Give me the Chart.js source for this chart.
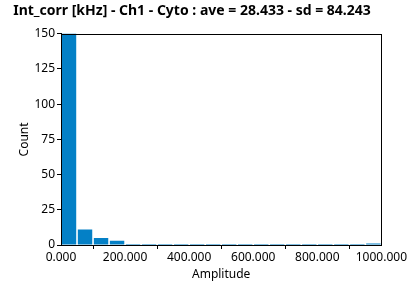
<!DOCTYPE html>
<html>
<head>
<meta charset="utf-8">
<script src="https://cdn.jsdelivr.net/npm/chart.js@4"></script>
<style>
  html, body { margin: 0; padding: 0; background: #fff; }
  #wrap { width: 408px; height: 287px; }
</style>
</head>
<body>
<div id="wrap"><canvas id="hist" width="408" height="287"></canvas></div>
<script>
// histogram bins (width 50) and counts
const binCenters = [25, 75, 125, 175, 225, 275, 325, 375, 425, 475, 525, 575, 625, 675, 725, 775, 825, 875, 925, 975];
const counts = [180, 11, 5, 3, 0, 0, 0, 0, 0, 0, 0, 0, 0, 0, 0, 0, 0, 0, 0, 1];
const xTicks = [0, 200, 400, 600, 800, 1000];
const yTicks = [0, 25, 50, 75, 100, 125, 150];

const font = "'Noto Sans', 'DejaVu Sans', sans-serif";

// box around the plot area
const frame = {
    id: 'frame',
    afterDatasetsDraw(chart) {
        const a = chart.chartArea;
        const ctx = chart.ctx;
        ctx.save();
        ctx.strokeStyle = '#000';
        ctx.lineWidth = 1;
        ctx.strokeRect(Math.round(a.left) + 0.5, Math.round(a.top) + 0.5,
            Math.round(a.right - a.left), Math.round(a.bottom - a.top));
        ctx.restore();
    }
};

new Chart(document.getElementById('hist'), {
    type: 'bar',
    data: {
        datasets: [{
            data: binCenters.map((x, i) => ({ x: x, y: counts[i] })),
            backgroundColor: '#0480C6',
            borderWidth: 0,
            barPercentage: 0.9,
            categoryPercentage: 1,
            minBarLength: 1
        }]
    },
    options: {
        responsive: false,
        animation: false,
        layout: { padding: { top: 0, right: 24, left: 0, bottom: 0 } },
        plugins: {
            legend: { display: false },
            tooltip: { enabled: false },
            title: {
                display: true,
                text: 'Int_corr [kHz] - Ch1 - Cyto : ave = 28.433 - sd = 84.243',
                color: '#000',
                font: { family: font, size: 14, weight: 'bold' },
                padding: { top: 3, bottom: 14 }
            }
        },
        scales: {
            x: {
                type: 'linear',
                min: 0,
                max: 1000,
                offset: false,
                afterBuildTicks(axis) { axis.ticks = xTicks.map(v => ({ value: v })); },
                afterFit(axis) { axis.height = 42; },
                ticks: {
                    color: '#000',
                    font: { family: font, size: 12 },
                    padding: 1,
                    maxRotation: 0,
                    callback: v => v.toFixed(3)
                },
                grid: { drawOnChartArea: false, color: '#000', tickLength: 4 },
                border: { color: '#000' },
                title: {
                    display: true,
                    text: 'Amplitude',
                    color: '#000',
                    font: { family: font, size: 12 },
                    padding: { top: 0, bottom: 5 }
                }
            },
            y: {
                min: 0,
                max: 150,
                afterBuildTicks(axis) { axis.ticks = yTicks.map(v => ({ value: v })); },
                afterFit(axis) { axis.width = 61; },
                ticks: {
                    color: '#000',
                    font: { family: font, size: 12 },
                    padding: 2
                },
                grid: { drawOnChartArea: false, color: '#000', tickLength: 4 },
                border: { color: '#000' },
                title: {
                    display: true,
                    text: 'Count',
                    color: '#000',
                    font: { family: font, size: 12 },
                    padding: { top: 17, bottom: 4 }
                }
            }
        }
    },
    plugins: [frame]
});
</script>
</body>
</html>
